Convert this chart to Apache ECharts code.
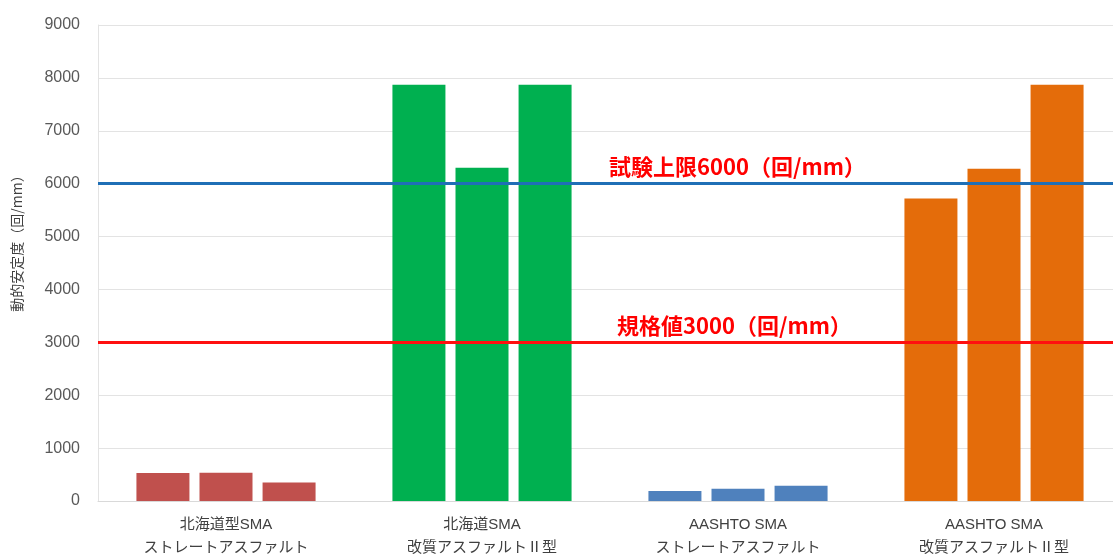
<!DOCTYPE html>
<html>
<head>
<meta charset="utf-8">
<script src="https://cdn.jsdelivr.net/npm/echarts@6/dist/echarts.min.js"></script>
<style>
  html, body { margin: 0; padding: 0; background: #ffffff; }
  #chart { width: 1113px; height: 556px; }
</style>
</head>
<body>
<div id="chart"></div>
<script>
// Mixture types (two-line category labels)
const categories = [
  '北海道型SMA\nストレートアスファルト',
  '北海道SMA\n改質アスファルトⅡ型',
  'AASHTO SMA\nストレートアスファルト',
  'AASHTO SMA\n改質アスファルトⅡ型'
];
// Dynamic stability of three specimens per mixture (回/mm)
const specimen1 = [530, 7870, 190, 5720];
const specimen2 = [535, 6300, 230, 6280];
const specimen3 = [350, 7870, 290, 7870];
// One colour per mixture
const mixColors = ['#c0504d', '#00b050', '#4f81bd', '#e46c0a'];
// Reference levels
const testLimit = 6000;
const specValue = 3000;
const yTicks = { min: 0, max: 9000, interval: 1000 };

const chart = echarts.init(document.getElementById('chart'), null, { renderer: 'canvas' });

function barSeries(name, data) {
  return {
    name: name,
    type: 'bar',
    data: data,
    barWidth: 53,
    barGap: '19%',
    itemStyle: { color: (p) => mixColors[p.dataIndex] },
    z: 2
  };
}

const refLabel = {
  show: true,
  color: '#ff0000',
  fontWeight: 'bold',
  fontSize: 22,
  fontFamily: '"Noto Sans CJK JP", sans-serif',
  position: 'insideStartTop'
};

chart.setOption({
  animation: false,
  textStyle: { fontFamily: '"Liberation Sans", "Noto Sans CJK JP", sans-serif' },
  grid: {
    left: 98, top: 25, width: 1024, height: 476,
    outerBoundsMode: 'none'
  },
  xAxis: {
    type: 'category',
    data: categories,
    axisLine: { show: true, lineStyle: { color: '#d9d9d9', width: 1 } },
    axisTick: { show: false },
    axisLabel: {
      color: '#404040',
      fontSize: 15,
      lineHeight: 23,
      margin: 12,
      fontFamily: '"Liberation Sans", "Noto Sans CJK JP", sans-serif'
    }
  },
  yAxis: {
    type: 'value',
    min: yTicks.min, max: yTicks.max, interval: yTicks.interval,
    name: '動的安定度（回/mm）',
    nameLocation: 'middle',
    nameRotate: 90,
    nameGap: 74,
    nameTextStyle: {
      color: '#404040', fontSize: 14,
      fontFamily: '"Noto Sans CJK JP", sans-serif',
      padding: [0, 0, 0, 46]
    },
    axisLine: { show: true, lineStyle: { color: '#e3e3e3', width: 1 } },
    axisTick: { show: false },
    axisLabel: {
      color: '#595959', fontSize: 16, margin: 18,
      formatter: (v) => String(v)
    },
    splitLine: { lineStyle: { color: '#e3e3e3', width: 1 } }
  },
  series: [
    barSeries('No.1', specimen1),
    barSeries('No.2', specimen2),
    barSeries('No.3', specimen3),
    {
      name: 'reference',
      type: 'line',
      data: [],
      z: 5,
      markLine: {
        silent: true,
        symbol: ['none', 'none'],
        animation: false,
        data: [
          {
            yAxis: testLimit,
            lineStyle: { color: '#1f6fb6', width: 3, type: 'solid' },
            label: Object.assign({}, refLabel, {
              formatter: '試験上限' + testLimit + '（回/mm）',
              distance: [511, 6]
            })
          },
          {
            yAxis: specValue,
            lineStyle: { color: '#ff1010', width: 3, type: 'solid' },
            label: Object.assign({}, refLabel, {
              formatter: '規格値' + specValue + '（回/mm）',
              distance: [519, 6]
            })
          }
        ]
      }
    }
  ]
});
</script>
</body>
</html>
